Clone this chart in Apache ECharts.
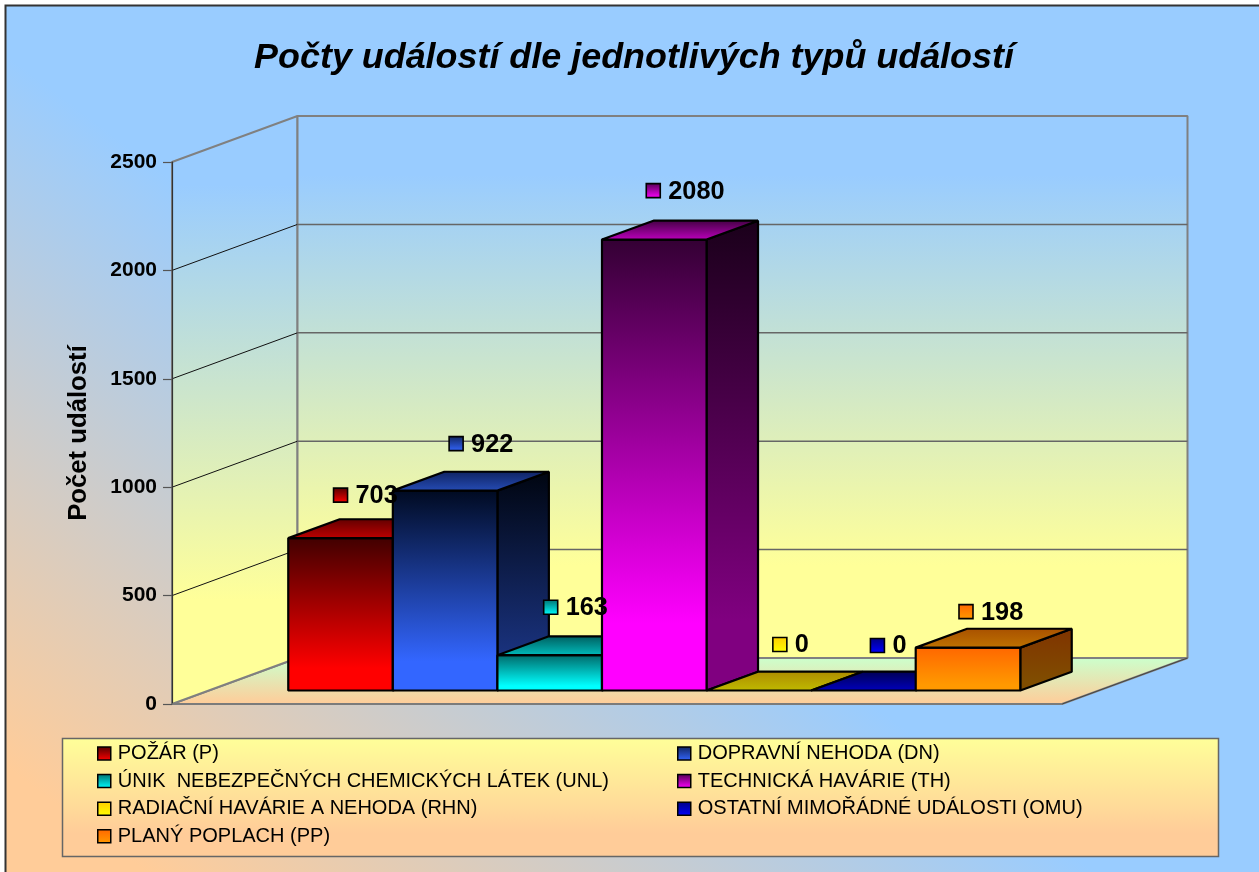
<!DOCTYPE html>
<html>
<head>
<meta charset="utf-8">
<style>html,body{margin:0;padding:0;background:#fff;overflow:hidden}#c{width:1259px;height:872px}</style>
<script src="https://cdn.jsdelivr.net/npm/echarts@6/dist/echarts.min.js"></script>
</head>
<body>
<div id="c"></div>
<script>
const categories = [''];
const seriesNames = [
  'POŽÁR (P)',
  'DOPRAVNÍ NEHODA (DN)',
  'ÚNIK  NEBEZPEČNÝCH CHEMICKÝCH LÁTEK (UNL)',
  'TECHNICKÁ HAVÁRIE (TH)',
  'RADIAČNÍ HAVÁRIE A NEHODA (RHN)',
  'OSTATNÍ MIMOŘÁDNÉ UDÁLOSTI (OMU)',
  'PLANÝ POPLACH (PP)'
];
const seriesValues = [703, 922, 163, 2080, 0, 0, 198];
const tickValues = [0, 500, 1000, 1500, 2000, 2500];
const axisTitle = 'Počet událostí';
const chartTitle = 'Počty událostí dle jednotlivých typů událostí';

/* style tables: [frontTop, frontBottom, topBack, topFront, sideTop, sideBottom, markerTop, markerBottom] */
const shades = [
  ['#400000','#ff0000','#600000','#c00000','#200000','#800000','#500000','#ff0000'],
  ['#000a20','#3366ff','#0f2260','#264db8','#000510','#1a3380','#10245c','#3366ff'],
  ['#006666','#00ffff','#005c5c','#00bfbf','#003333','#008080','#007070','#00ffff'],
  ['#330033','#ff00ff','#400040','#c000c0','#1a001a','#800080','#500050','#ff00ff'],
  ['#ffcc00','#ffff00','#ac8a00','#c0bc00','#806600','#808000','#ffcc00','#ffff00'],
  ['#000050','#0000ff','#000050','#0000c0','#000028','#000080','#000080','#0000ff'],
  ['#ff6600','#ff9900','#a85000','#bf7300','#803300','#804d00','#ff6600','#ff9900']
];
/* hand-placed value label nudges relative to the bar's top-front centre */
const labelNudge = [[0,-43],[11,-47],[1,-48],[-1,-49],[21,-46],[14,-45],[-2,-36]];

const DEPTH = [125.5, -46];      // full floor depth
const BAR_FRONT = 0.293;         // fraction of the depth where bars start
const BAR_DEPTH = 0.41;          // fraction of the depth bars occupy
const CLUSTER = 0.8225;          // share of the band used by the cluster
const FONT = '"Liberation Sans", Arial, sans-serif';

const vgrad = (a, b, x, y, x2, y2, global) => ({
  type: 'linear', x: x ?? 0, y: y ?? 0, x2: x2 ?? 0, y2: y2 ?? 1, global: !!global,
  colorStops: [{ offset: 0, color: a }, { offset: 1, color: b }]
});
const frontGrad = (a, b) => ({
  type: 'linear', x: 0, y: 0, x2: 0, y2: 1,
  colorStops: [{ offset: 0, color: a }, { offset: 0.85, color: b }, { offset: 1, color: b }]
});
const poly = (pts, style, z2) => ({ type: 'polygon', shape: { points: pts }, style, z2: z2 || 0 });

function renderWalls(params, api) {
  const band = api.size([1, 0])[0];
  const cx = api.coord([0, 0])[0];
  const L = cx - band / 2, R = cx + band / 2;
  const y0 = api.coord([0, 0])[1];
  const yT = api.coord([0, tickValues[tickValues.length - 1]])[1];
  const dx = DEPTH[0], dy = DEPTH[1];
  const frame = { stroke: '#808080', lineWidth: 2, lineJoin: 'bevel' };
  const children = [
    poly([[L, y0], [L + dx, y0 + dy], [R + dx, y0 + dy], [R, y0]],
      { fill: vgrad('#ccffcc', '#ffcc99', 0, y0 + dy, 0, y0, true), ...frame }),
    poly([[L, yT], [L + dx, yT + dy], [L + dx, y0 + dy], [L, y0]],
      { fill: vgrad('#99ccff', '#ffff99', 0, 185, 0, 600, true), ...frame }),
    poly([[L + dx, yT + dy], [R + dx, yT + dy], [R + dx, y0 + dy], [L + dx, y0 + dy]],
      { fill: vgrad('#99ccff', '#ffff99', 0, 175, 0, 565, true), ...frame })
  ];
  tickValues.slice(1, -1).forEach(v => {
    const y = api.coord([0, v])[1];
    children.push({ type: 'line', shape: { x1: L, y1: y, x2: L + dx, y2: y + dy }, style: { stroke: '#111', lineWidth: 1 } });
    children.push({ type: 'line', shape: { x1: L + dx, y1: y + dy, x2: R + dx, y2: y + dy }, style: { stroke: '#666', lineWidth: 1.5 } });
  });
  children.push({ type: 'line', shape: { x1: R, y1: y0, x2: R + dx, y2: y0 + dy }, style: { stroke: '#444', lineWidth: 1 } });
  return { type: 'group', children };
}

function renderBar(params, api) {
  const i = params.seriesIndex - 1;
  const s = shades[i];
  const band = api.size([1, 0])[0];
  const w = band * CLUSTER / seriesNames.length;
  const base = api.coord([0, 0]);
  const top = api.coord([0, api.value(1)]);
  const ox = DEPTH[0] * BAR_FRONT + 0.5, oy = DEPTH[1] * BAR_FRONT;
  const ddx = DEPTH[0] * BAR_DEPTH, ddy = DEPTH[1] * BAR_DEPTH;
  const x0 = base[0] + ox - w * seriesNames.length / 2 + w * i;
  const x1 = x0 + w;
  const yb = base[1] + oy, yt = top[1] + oy;
  const edge = { stroke: '#000', lineWidth: 2.2, lineJoin: 'bevel' };
  const z = 10 + i;
  const children = [];
  if (yb - yt > 0.5) {
    children.push(poly([[x1, yt], [x1 + ddx, yt + ddy], [x1 + ddx, yb + ddy], [x1, yb]],
      { fill: frontGrad(s[4], s[5]), ...edge }, z));
    children.push(poly([[x0, yt], [x1, yt], [x1, yb], [x0, yb]],
      { fill: frontGrad(s[0], s[1]), ...edge }, z));
  }
  children.push(poly([[x0, yt], [x0 + ddx, yt + ddy], [x1 + ddx, yt + ddy], [x1, yt]],
    { fill: vgrad(s[2], s[3]), ...edge }, z));
  const mx = (x0 + x1) / 2 + labelNudge[i][0], my = yt + labelNudge[i][1];
  children.push({ type: 'rect', shape: { x: mx - 7, y: my - 7, width: 14, height: 14 },
    style: { fill: vgrad(s[6], s[7]), stroke: '#000', lineWidth: 1.6 }, z2: 100 });
  children.push({ type: 'text', x: mx + 15, y: my + 1, z2: 101,
    style: { text: String(api.value(1)), fill: '#000', font: 'bold 25.3px ' + FONT, textAlign: 'left', textVerticalAlign: 'middle' } });
  return { type: 'group', children };
}

const legendFor = (idx, left) => ({
  orient: 'vertical', left, top: 743.5, itemWidth: 13, itemHeight: 13, itemGap: 7.6,
  selectedMode: false, icon: 'rect', padding: 0, align: 'left',
  textStyle: { fontFamily: FONT, fontSize: 20, color: '#000', lineHeight: 20, padding: [0, 0, 0, 2] },
  data: idx.map(i => ({ name: seriesNames[i], itemStyle: { color: vgrad(shades[i][6], shades[i][7]), borderColor: '#000', borderWidth: 1.5 } }))
});

const chart = echarts.init(document.getElementById('c'), null, { renderer: 'canvas' });
chart.setOption({
  animation: false,
  graphic: [
    { type: 'rect', z: -5, silent: true, shape: { x: 5.5, y: 5.5, width: 1400, height: 1000 },
      style: { fill: vgrad('#ffcc99', '#99ccff', -366, 488, -24, 32, true), stroke: '#333', lineWidth: 2 } },
    { type: 'rect', z: 1, silent: true, shape: { x: 62.5, y: 738.5, width: 1156, height: 118 },
      style: { fill: { type: 'linear', x: 0, y: 0, x2: 0, y2: 1, colorStops: [{ offset: 0, color: '#ffff99' }, { offset: 0.8, color: '#ffcc99' }, { offset: 1, color: '#ffcc99' }] }, stroke: '#666', lineWidth: 1.5 } }
  ],
  title: { text: chartTitle, left: 634, top: 40, textAlign: 'center', padding: 0,
    textStyle: { fontFamily: FONT, fontWeight: 'bold', fontStyle: 'italic', fontSize: 35.9, color: '#000' } },
  grid: { left: 172, top: 162, width: 890, height: 542, outerBoundsMode: 'none' },
  xAxis: { type: 'category', data: categories, z: 5,
    axisLine: { show: true, lineStyle: { color: '#7a7a7a', width: 1.5 } },
    axisTick: { show: false }, axisLabel: { show: false } },
  yAxis: { type: 'value', min: 0, max: 2500, interval: 500, z: 5,
    name: axisTitle, nameLocation: 'middle', nameGap: 80,
    nameTextStyle: { fontFamily: FONT, fontWeight: 'bold', fontSize: 25.7, color: '#000' },
    axisLine: { show: true, lineStyle: { color: '#333', width: 1.2 } },
    axisTick: { show: true, length: 9, lineStyle: { color: '#555', width: 1.2 } },
    axisLabel: { margin: 15, padding: [2, 0, 0, 0], formatter: v => String(v), fontFamily: FONT, fontWeight: 'bold', fontSize: 21, color: '#000' },
    splitLine: { show: false } },
  legend: [legendFor([0, 2, 4, 6], 97), legendFor([1, 3, 5], 677)],
  series: [
    { type: 'custom', name: 'walls', silent: true, renderItem: renderWalls, data: [[0, 0]], z: 1 }
  ].concat(seriesNames.map((n, i) => ({
    type: 'custom', name: n, renderItem: renderBar, silent: true, z: 2,
    encode: { x: 0, y: 1 }, data: [[0, seriesValues[i]]]
  })))
});
</script>
</body>
</html>
